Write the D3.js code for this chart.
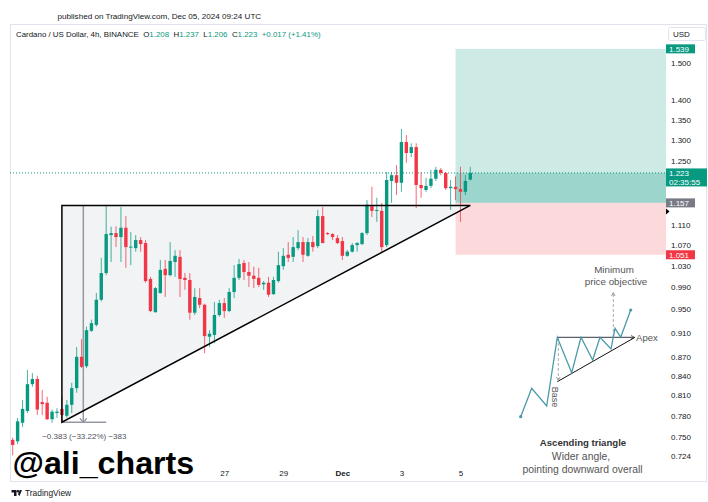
<!DOCTYPE html>
<html><head><meta charset="utf-8">
<script src="https://cdn.jsdelivr.net/npm/d3@7"></script>
<style>body{margin:0;background:#fff}svg{display:block;font-family:"Liberation Sans",Arial,sans-serif}</style>
</head><body><svg id="c" width="708" height="502"></svg>
<script>
// ---- data (ADA/USD 4h, BINANCE) ----
const opens =[0.746,0.744,0.770,0.787,0.827,0.835,0.800,0.799,0.775,0.784,0.790,0.780,0.796,0.821,0.870,0.855,0.913,0.923,0.967,1.016,1.090,1.094,1.086,1.105,1.066,1.064,1.080,1.074,1.005,0.945,0.979,1.024,1.012,1.037,1.047,1.007,1.003,0.944,0.970,0.958,0.903,0.906,0.940,0.961,0.947,0.981,1.007,1.035,1.018,1.011,1.007,0.995,0.998,0.977,1.001,1.029,1.051,1.047,1.064,1.076,1.049,1.076,1.068,1.129,1.094,1.092,1.084,1.078,1.049,1.057,1.070,1.072,1.094,1.150,1.140,1.140,1.070,1.205,1.218,1.201,1.295,1.269,1.283,1.196,1.185,1.194,1.210,1.230,1.223,1.189,1.192,1.187,1.181,1.208];
const highs =[0.749,0.777,0.803,0.849,0.844,0.840,0.818,0.808,0.789,0.791,0.808,0.803,0.829,0.886,0.899,0.920,0.932,0.979,1.045,1.153,1.107,1.108,1.148,1.129,1.096,1.090,1.086,1.080,1.009,0.990,1.041,1.041,1.076,1.060,1.060,1.016,1.016,0.988,0.988,0.960,0.914,0.963,0.967,0.970,0.988,1.031,1.043,1.041,1.037,1.028,1.026,1.001,1.009,1.009,1.057,1.064,1.076,1.086,1.100,1.086,1.084,1.088,1.142,1.148,1.096,1.094,1.090,1.086,1.060,1.074,1.076,1.096,1.163,1.192,1.168,1.157,1.225,1.225,1.241,1.327,1.312,1.292,1.292,1.225,1.212,1.230,1.237,1.234,1.225,1.207,1.215,1.237,1.218,1.237];
const lows  =[0.725,0.740,0.764,0.784,0.823,0.781,0.781,0.774,0.770,0.777,0.771,0.777,0.784,0.814,0.852,0.852,0.911,0.920,0.964,1.012,1.037,1.066,1.037,1.026,1.031,1.057,1.057,0.998,0.945,0.944,0.978,0.972,1.010,1.009,0.972,0.985,0.932,0.940,0.952,0.876,0.886,0.892,0.937,0.935,0.945,0.970,1.003,1.003,0.990,0.988,0.990,0.985,0.972,0.976,0.998,1.022,1.037,1.037,1.060,1.037,1.047,1.057,1.064,1.074,1.090,1.080,1.072,1.041,1.047,1.055,1.057,1.070,1.090,1.127,1.117,1.057,1.066,1.157,1.174,1.181,1.246,1.259,1.146,1.168,1.181,1.189,1.205,1.218,1.185,1.142,1.163,1.117,1.174,1.206];
const closes=[0.739,0.772,0.790,0.827,0.835,0.789,0.797,0.775,0.786,0.786,0.781,0.796,0.821,0.870,0.854,0.914,0.926,0.967,1.016,1.092,1.094,1.086,1.105,1.066,1.067,1.080,1.072,1.001,0.947,0.988,1.022,1.012,1.039,1.049,1.005,1.003,0.944,0.972,0.958,0.904,0.908,0.940,0.961,0.947,0.981,1.007,1.033,1.018,1.011,1.005,0.994,0.998,0.976,1.003,1.031,1.049,1.045,1.066,1.076,1.051,1.076,1.066,1.129,1.074,1.092,1.086,1.074,1.049,1.057,1.070,1.074,1.094,1.153,1.140,1.142,1.066,1.207,1.218,1.201,1.295,1.269,1.283,1.196,1.189,1.194,1.210,1.230,1.223,1.189,1.192,1.187,1.181,1.205,1.223];
const startTimeUTC = Date.UTC(2024,10,19,20); // first 4h candle
const priceTicks=[1.5,1.4,1.35,1.3,1.25,1.11,1.07,1.03,0.99,0.95,0.91,0.87,0.84,0.81,0.78,0.75,0.724];
const dateTicks=[Date.UTC(2024,10,27),Date.UTC(2024,10,29),Date.UTC(2024,11,1),Date.UTC(2024,11,3),Date.UTC(2024,11,5)];
const dateLabels=["27","29","Dec","3","5"];
// drawing tools (values)
const triLow=0.7707, triTop=1.1516, triStartIdx=10, triEndIdx=93;
const measIdx=14.35, measEndIdx=19;
const target=1.539, entry=1.157, stop=1.051, last=1.223, posStartIdx=90;
// inset pictogram (local units)
const zig=[[5.7,156.7],[16.7,128.3],[31.7,146],[42.3,77.3],[56.7,112.7],[66,77.3],[77.7,100],[85,77.3],[96,89],[100,68.3],[105.7,77.3],[115.7,50]];

const svg=d3.select("#c");
const P={l:10,t:24,r:666,b:482};
const tAt=i=>new Date(startTimeUTC+i*4*3600e3);
const N=opens.length;
const x=d3.scaleTime().domain([tAt(0),tAt(N-1)]).range([12.7,470.3]);
const xi=i=>x(tAt(i));
const y=d3.scaleLog().domain([0.724,1.5]).range([456,62.7]);
const UP="#089981", DN="#f23645";

svg.append("rect").attr("width",708).attr("height",502).attr("fill","#fff");
svg.append("defs").append("clipPath").attr("id","clip").append("rect")
  .attr("x",P.l).attr("y",P.t).attr("width",P.r-P.l).attr("height",P.b-P.t);

// header
svg.append("text").attr("x",57.5).attr("y",19).attr("font-size",8.1).attr("fill","#131722")
  .text("published on TradingView.com, Dec 05, 2024 09:24 UTC");
svg.append("rect").attr("x",10.5).attr("y",24.5).attr("width",696).attr("height",457)
  .attr("fill","none").attr("stroke","#e0e3eb");

const g=svg.append("g").attr("clip-path","url(#clip)");

// position tool zones
const xr=xi(posStartIdx);
g.append("rect").attr("x",xr).attr("y",y(target)).attr("width",P.r-xr).attr("height",y(entry)-y(target)).attr("fill","#cdeae5");
g.append("rect").attr("x",xr).attr("y",y(last)).attr("width",P.r-xr).attr("height",y(entry)-y(last)).attr("fill","#9cd5cb");
g.append("rect").attr("x",xr).attr("y",y(entry)).attr("width",P.r-xr).attr("height",y(stop)-y(entry)).attr("fill","#fcdadb");

// triangle fill
const triPts=[[xi(triStartIdx),y(triLow)],[xi(triStartIdx),y(triTop)],[xi(triEndIdx),y(triTop)]];
g.append("path").attr("d",d3.line()(triPts)+"Z").attr("fill","#f1f3f5");

// last price dotted line
g.append("line").attr("x1",P.l).attr("x2",P.r).attr("y1",y(last)).attr("y2",y(last))
  .attr("stroke",UP).attr("stroke-dasharray","1,2").attr("stroke-width",1);

// measurement tool
const mc="#9598a1";
g.append("line").attr("x1",xi(measIdx)).attr("x2",xi(measIdx)).attr("y1",y(triTop)).attr("y2",y(triLow)).attr("stroke",mc).attr("stroke-width",1.5);
g.append("line").attr("x1",xi(triStartIdx)).attr("x2",xi(measEndIdx)).attr("y1",y(triLow)).attr("y2",y(triLow)).attr("stroke",mc).attr("stroke-width",1.5);
g.append("path").attr("d",`M${xi(measIdx)-3.5},${y(triLow)-4}L${xi(measIdx)},${y(triLow)}L${xi(measIdx)+3.5},${y(triLow)-4}`)
  .attr("fill","none").attr("stroke",mc).attr("stroke-width",1.2);
g.append("text").attr("x",xi(measIdx)+1).attr("y",y(triLow)+17).attr("text-anchor","middle").attr("font-size",8)
  .attr("fill","#50535e").text("−0.383 (−33.22%) −383");

// candles
const cd=d3.range(N).map(i=>({i,o:opens[i],h:highs[i],l:lows[i],c:closes[i]}));
const cg=g.append("g");
cg.selectAll("line").data(cd).join("line")
  .attr("x1",d=>xi(d.i)).attr("x2",d=>xi(d.i)).attr("y1",d=>y(d.h)).attr("y2",d=>y(d.l))
  .attr("stroke",d=>d.c>=d.o?UP:DN).attr("stroke-width",1).attr("stroke-opacity",0.75);
cg.selectAll("rect").data(cd).join("rect")
  .attr("x",d=>xi(d.i)-1.7).attr("width",3.4)
  .attr("y",d=>y(Math.max(d.o,d.c))).attr("height",d=>Math.max(1,Math.abs(y(d.o)-y(d.c))))
  .attr("fill",d=>d.c>=d.o?UP:DN);

// triangle outline
g.append("path").attr("d",d3.line()(triPts)+"Z").attr("fill","none").attr("stroke","#000").attr("stroke-width",1.5);

// legend
const lg=svg.append("text").attr("x",16).attr("y",37).attr("font-size",7.9).attr("fill","#131722").style("white-space","pre");
lg.append("tspan").text("Cardano / US Dollar, 4h, BINANCE ");
[["O",opens[N-1]],["H",highs[N-1]],["L",lows[N-1]],["C",closes[N-1]]].forEach(([k,v])=>{
  lg.append("tspan").text(" "+k); lg.append("tspan").attr("fill",UP).text(d3.format(".3f")(v)+" ");
});
lg.append("tspan").attr("fill",UP).text(" +0.017 (+1.41%)");

// price axis
const ya=d3.axisRight(y).tickValues(priceTicks).tickFormat(d3.format(".3f")).tickSize(0).tickPadding(5);
const yg=svg.append("g").attr("transform",`translate(${P.r},0)`).call(ya);
yg.select(".domain").remove();
yg.selectAll("text").attr("font-size",8).attr("fill","#131722").attr("font-family","Liberation Sans, Arial, sans-serif");

// price labels
function plabel(v,color,w,sub){
  const yy=y(v); const h=sub?18:9; const y0=yy-4.5;
  svg.append("rect").attr("x",P.r).attr("y",y0).attr("width",w).attr("height",h).attr("fill",color);
  svg.append("text").attr("x",P.r+3).attr("y",yy).attr("dy","0.35em").attr("font-size",8).attr("fill","#fff").text(d3.format(".3f")(v));
  if(sub) svg.append("text").attr("x",P.r+3).attr("y",yy+9).attr("dy","0.35em").attr("font-size",8).attr("fill","#fff").text(sub);
}
plabel(target,UP,29);
plabel(last,UP,41,"02:35:55");
plabel(entry,"#787b86",29);
plabel(stop,DN,29);
svg.append("path").attr("d",`M${P.r},${y(triTop)+3}L${P.r+3.5},${y(triTop)+6}L${P.r},${y(triTop)+9}Z`).attr("fill","#000");
svg.append("rect").attr("x",668.5).attr("y",27.5).attr("width",37).attr("height",13).attr("rx",2)
  .attr("fill","#fff").attr("stroke","#e0e3eb");
svg.append("text").attr("x",673).attr("y",34).attr("dy","0.35em").attr("font-size",8).attr("fill","#131722").text("USD");

// time axis
const xa=d3.axisBottom(x).tickValues(dateTicks.map(d=>new Date(d))).tickFormat((d,i)=>dateLabels[i]).tickSize(0).tickPadding(0);
const xg=svg.append("g").attr("transform","translate(0,470)").call(xa);
xg.select(".domain").remove();
xg.selectAll("text").attr("font-size",8).attr("fill","#131722").attr("font-family","Liberation Sans, Arial, sans-serif")
  .attr("font-weight",(d,i)=>dateLabels[i]==="Dec"?"bold":"normal");

// watermark
svg.append("text").attr("x",12.5).attr("y",473.5).attr("font-size",32.2).attr("font-weight","bold").attr("fill","#000")
  .text("@ali_charts");

// TradingView footer
svg.append("path").attr("d","M11.5,490h5v6h-2.5v-3.5h-2.5z").attr("fill","#131722");
svg.append("circle").attr("cx",18).attr("cy",491.3).attr("r",1.3).attr("fill","#131722");
svg.append("path").attr("d","M19.5,496L22,490h-2.2l-1.8,4.3z").attr("fill","#131722");
svg.append("text").attr("x",25).attr("y",496).attr("font-size",8.4).attr("fill","#131722").text("TradingView");

// inset pictogram
const ix=d3.scaleLinear().domain([0,100]).range([515,615]);
const iy=d3.scaleLinear().domain([0,100]).range([260,360]);
const ins=svg.append("g");
ins.append("line").attr("x1",ix(42.3)).attr("x2",ix(118.3)).attr("y1",iy(77.3)).attr("y2",iy(77.3)).attr("stroke","#5d6068").attr("stroke-width",1.2);
ins.append("path").attr("d",`M${ix(116)},${iy(75.5)}L${ix(119.5)},${iy(77.3)}L${ix(116)},${iy(79.1)}`).attr("fill","none").attr("stroke","#5d6068");
ins.append("line").attr("x1",ix(42.3)).attr("x2",ix(120)).attr("y1",iy(121.7)).attr("y2",iy(77.3)).attr("stroke","#111").attr("stroke-width",1);
ins.append("line").attr("x1",ix(43.3)).attr("x2",ix(43.3)).attr("y1",iy(78)).attr("y2",iy(120)).attr("stroke","#aaa").attr("stroke-dasharray","3,2");
ins.append("path").attr("d",`M${ix(41.5)},${iy(117)}L${ix(43.3)},${iy(120.5)}L${ix(45.1)},${iy(117)}`).attr("fill","none").attr("stroke","#999");
ins.append("line").attr("x1",ix(98.3)).attr("x2",ix(98.3)).attr("y1",iy(77)).attr("y2",iy(33)).attr("stroke","#aaa").attr("stroke-dasharray","3,2");
ins.append("path").attr("d",`M${ix(96.6)},${iy(36)}L${ix(98.3)},${iy(32.5)}L${ix(100)},${iy(36)}`).attr("fill","none").attr("stroke","#999");
ins.append("path").attr("d",d3.line().x(d=>ix(d[0])).y(d=>iy(d[1]))(zig)).attr("fill","none").attr("stroke","#4a9aa9").attr("stroke-width",1.3);
ins.selectAll("circle").data([zig[0],zig[zig.length-1]]).join("circle").attr("cx",d=>ix(d[0])).attr("cy",d=>iy(d[1])).attr("r",1.6).attr("fill","#4a9aa9");
const it=(t,xx,yy,o={})=>ins.append("text").attr("x",xx).attr("y",yy).attr("dy","0.35em").attr("text-anchor",o.a||"middle")
  .attr("font-size",o.s||10.4).attr("font-weight",o.w||"normal").attr("fill",o.c||"#555").text(t);
it("Minimum",ix(99),iy(10),{s:9.8});
it("price objective",ix(101),iy(22),{s:9.8});
it("Apex",ix(121),iy(78),{a:"start",s:9.6});
it("Ascending triangle",ix(68),iy(182.7),{w:"bold",c:"#333",s:9.6});
it("Wider angle,",ix(66),iy(196.5));
it("pointing downward overall",ix(67.5),iy(209.3));
ins.append("text").attr("transform",`translate(${ix(40.5)},${iy(137)}) rotate(90)`).attr("text-anchor","middle").attr("dy","0.35em")
  .attr("font-size",9).attr("fill","#555").text("Base");
</script></body></html>
